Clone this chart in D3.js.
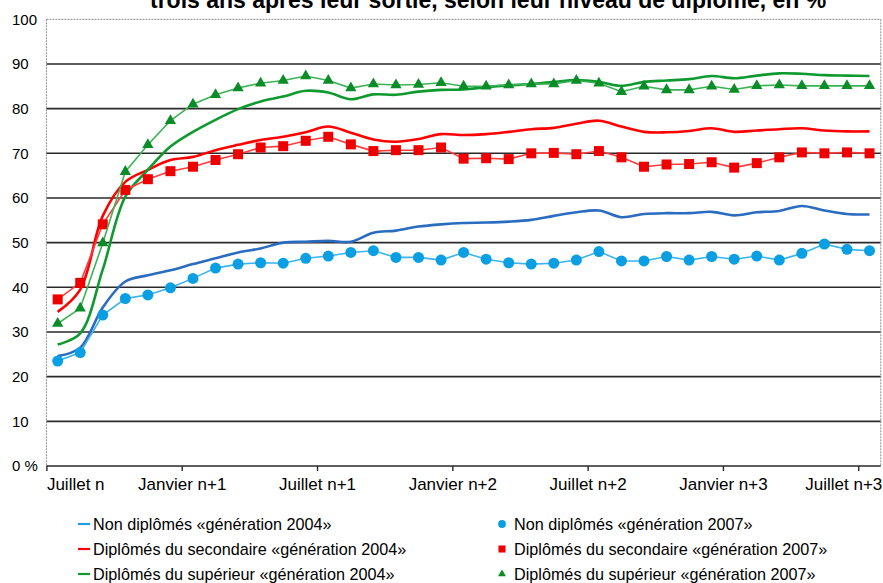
<!DOCTYPE html>
<html><head><meta charset="utf-8">
<script src="https://cdn.jsdelivr.net/npm/d3@7"></script>
<style>body{margin:0;background:#fff}svg{display:block;font-family:"Liberation Sans",Arial,sans-serif}</style>
</head><body>
<svg id="c" width="883" height="583"></svg>
<script>
const title = "trois ans après leur sortie, selon leur niveau de diplôme, en %";
const monthLabels = ["Juillet n","Janvier n+1","Juillet n+1","Janvier n+2","Juillet n+2","Janvier n+3","Juillet n+3"];
const months = d3.range(37);
const yTicks = [0,10,20,30,40,50,60,70,80,90,100];

const nonDipl2004 = [24.6,26.5,35.5,41.3,42.7,43.8,45.2,46.5,47.8,48.7,50.0,50.2,50.4,50.2,52.2,52.7,53.6,54.1,54.4,54.5,54.7,55.1,56.0,56.8,57.2,55.7,56.4,56.6,56.6,56.9,56.1,56.8,57.1,58.2,57.2,56.4,56.3];
const nonDipl2007 = [23.5,25.4,33.8,37.5,38.3,39.9,42.0,44.3,45.2,45.5,45.4,46.5,47.0,47.8,48.2,46.7,46.7,46.1,47.8,46.3,45.5,45.2,45.4,46.1,48.0,45.9,45.9,46.9,46.1,46.9,46.3,47.0,46.1,47.6,49.7,48.5,48.2];
const second2004 = [34.5,39.5,56.0,63.6,66.3,68.5,69.2,70.7,71.9,73.0,73.7,74.7,76.0,74.6,73.1,72.6,73.2,74.3,74.1,74.3,74.8,75.4,75.7,76.6,77.3,76.0,74.8,74.7,75.0,75.6,74.8,75.1,75.4,75.6,75.1,74.9,74.9];
const second2007 = [37.3,41.0,54.1,61.8,64.2,66.0,67.0,68.5,69.8,71.3,71.6,72.8,73.7,72.0,70.5,70.7,70.7,71.3,68.8,68.9,68.7,70.0,70.1,69.8,70.5,69.1,67.0,67.5,67.6,68.0,66.8,67.8,69.1,70.2,70.0,70.2,70.0];
const sup2004 = [27.2,29.7,44.0,60.3,66.3,71.5,74.8,77.5,79.9,81.6,82.7,84.0,83.6,82.1,83.2,83.1,83.8,84.2,84.3,84.8,85.2,85.5,86.0,86.4,86.0,85.1,86.0,86.3,86.6,87.3,86.8,87.4,87.9,87.8,87.5,87.4,87.3];
const sup2007 = [31.9,35.3,49.9,65.9,71.9,77.3,81.0,83.1,84.6,85.7,86.3,87.3,86.3,84.6,85.5,85.3,85.4,85.8,85.0,85.0,85.3,85.5,85.5,86.3,85.7,83.8,85.0,84.2,84.2,85.0,84.3,85.1,85.3,85.1,85.1,85.1,85.1];

const names2004 = ["Non diplômés «génération 2004»","Diplômés du secondaire «génération 2004»","Diplômés du supérieur «génération 2004»"];
const names2007 = ["Non diplômés «génération 2007»","Diplômés du secondaire «génération 2007»","Diplômés du supérieur «génération 2007»"];

const lines2004 = [
  {name:names2004[0], values:nonDipl2004, color:"#2a6cc0"},
  {name:names2004[1], values:second2004, color:"#ff0000"},
  {name:names2004[2], values:sup2004, color:"#0e9a2e"}
];
const lines2007 = [
  {name:names2007[0], values:nonDipl2007, color:"#0a9fe2", line:"#3ab4ea", symbol:d3.symbolCircle, size:95},
  {name:names2007[1], values:second2007, color:"#ee0000", line:"#ff3b3b", symbol:d3.symbolSquare, size:100},
  {name:names2007[2], values:sup2007, color:"#0a8c28", line:"#3db356", symbol:d3.symbolTriangle, size:55}
];

const svg = d3.select("#c");
const L = 46.4, R = 880.8, T = 19.3, B = 466;
const x = d3.scaleBand().domain(months).range([L, R]).paddingInner(0).paddingOuter(0);
const xc = i => x(i) + x.bandwidth()/2;
const xt = d3.scaleLinear().domain([0,37]).range([L, R]);
const y = d3.scaleLinear().domain([0,100]).range([B, T]);

// title (partially cut at top, as in the reference)
svg.append("text").attr("x",150).attr("y",8).attr("font-size",23).attr("font-weight","bold").attr("fill","#000").text(title);

// gridlines
svg.append("g").selectAll("line").data(yTicks.filter(v=>v>0 && v<100)).join("line")
  .attr("x1",L).attr("x2",R).attr("y1",d=>y(d)).attr("y2",d=>y(d))
  .attr("stroke","#2a2a2a").attr("stroke-width",1.6);
// dotted frame
svg.append("line").attr("x1",L).attr("x2",R).attr("y1",y(100)).attr("y2",y(100)).attr("stroke","#8a8a8a").attr("stroke-width",1).attr("stroke-dasharray","2,1");
svg.append("line").attr("x1",L).attr("x2",L).attr("y1",y(100)).attr("y2",y(0)).attr("stroke","#8a8a8a").attr("stroke-width",1).attr("stroke-dasharray","2,1");
svg.append("line").attr("x1",R).attr("x2",R).attr("y1",y(100)).attr("y2",y(0)).attr("stroke","#8a8a8a").attr("stroke-width",1).attr("stroke-dasharray","2,1");

// y axis labels
const yAxis = d3.axisLeft(y).tickValues(yTicks).tickSize(0).tickFormat(d=> d===0 ? "0 %" : d);
const gy = svg.append("g").attr("transform",`translate(${L},0)`).call(yAxis);
gy.select(".domain").remove();
gy.selectAll("text").attr("x",12-L).attr("text-anchor","start").attr("font-size",15).attr("fill","#000").attr("font-family","Liberation Sans, Arial, sans-serif");

// x axis
const xAxis = d3.axisBottom(xt).tickValues(d3.range(0,37,6)).tickSize(5).tickSizeOuter(0).tickFormat((d,i)=>monthLabels[i]);
const gx = svg.append("g").attr("transform",`translate(0,${B})`).call(xAxis);
gx.select(".domain").attr("stroke","#2a2a2a").attr("stroke-width",1.6).attr("d",`M${L},0H${R}`);
gx.selectAll(".tick line").attr("stroke","#2a2a2a").attr("stroke-width",1.4);
gx.selectAll("text").attr("font-size",17).attr("fill","#000").attr("dy","0.9em").attr("y",9)
  .attr("font-family","Liberation Sans, Arial, sans-serif")
  .attr("text-anchor",(d,i)=> i===0 ? "start" : (i===monthLabels.length-1 ? "end" : "middle"))
  .attr("x",(d,i)=> i===monthLabels.length-1 ? (R - xt(d) + 1) : 0);

// 2004 lines (smooth)
const line2004 = d3.line().x((d,i)=>xc(i)).y(d=>y(d)).curve(d3.curveCatmullRom.alpha(0.5));
svg.append("g").selectAll("path").data(lines2004).join("path")
  .attr("d",d=>line2004(d.values)).attr("fill","none").attr("stroke",d=>d.color).attr("stroke-width",2.6);

// 2007 lines with markers
const line2007 = d3.line().x((d,i)=>xc(i)).y(d=>y(d));
const g7 = svg.append("g").selectAll("g").data(lines2007).join("g");
g7.append("path").attr("d",d=>line2007(d.values)).attr("fill","none").attr("stroke",d=>d.line).attr("stroke-width",1.6);
g7.each(function(s){
  d3.select(this).selectAll("path.m").data(s.values).join("path").attr("class","m")
    .attr("transform",(d,i)=>`translate(${xc(i)},${y(d)})`)
    .attr("d",d3.symbol().type(s.symbol).size(s.size)).attr("fill",s.color);
});

// legend
const lg = svg.append("g").attr("font-size",16.2).attr("fill","#000");
const rowY = [524,549,574];
lines2004.forEach((s,i)=>{
  const gi = lg.append("g").attr("transform",`translate(78,${rowY[i]})`);
  gi.append("line").attr("x1",0).attr("x2",12).attr("y1",0).attr("y2",0).attr("stroke", i===0 ? "#1f9ee6" : s.color).attr("stroke-width",2.2);
  gi.append("text").attr("x",15).attr("dy","0.35em").text(s.name);
});
lines2007.forEach((s,i)=>{
  const gi = lg.append("g").attr("transform",`translate(502,${rowY[i]})`);
  gi.append("path").attr("d",d3.symbol().type(s.symbol).size(s.size*0.5)).attr("fill",s.color);
  gi.append("text").attr("x",12).attr("dy","0.35em").text(s.name);
});
</script>
</body></html>
